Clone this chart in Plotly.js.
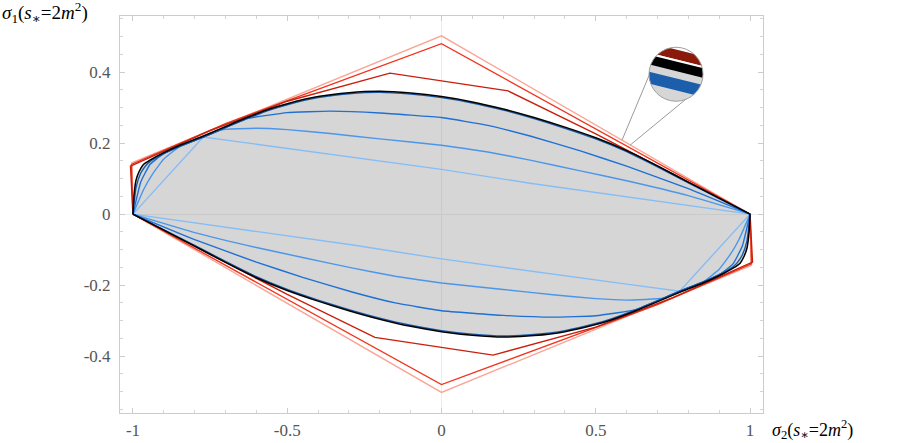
<!DOCTYPE html>
<html>
<head>
<meta charset="utf-8">
<script src="https://cdn.plot.ly/plotly-3.0.1.min.js"></script>
<style>html,body{margin:0;padding:0;background:#fff}#chart{width:900px;height:443px}</style>
</head>
<body>
<div id="chart"></div>
<script>
// allowed region boundary (upper half from -1 to 1, lower half from 1 back to -1)
const boundUpX = [-1, -0.997, -0.99, -0.98, -0.968, -0.945, -0.903, -0.848, -0.772, -0.718, -0.63, -0.55, -0.5, -0.4, -0.3, -0.2, -0.1, 0, 0.1, 0.2, 0.3, 0.4, 0.5, 0.6, 0.7, 0.8, 0.9, 1];
const boundUpY = [0, 0.05, 0.096, 0.12, 0.138, 0.152, 0.172, 0.194, 0.22, 0.24, 0.272, 0.298, 0.311, 0.331, 0.342, 0.346, 0.341, 0.331, 0.316, 0.296, 0.272, 0.245, 0.215, 0.179, 0.136, 0.09, 0.045, 0];
const boundLoX = [1, 0.997, 0.99, 0.98, 0.968, 0.945, 0.903, 0.848, 0.772, 0.718, 0.63, 0.55, 0.5, 0.4, 0.3, 0.2, 0.1, 0, -0.1, -0.2, -0.3, -0.4, -0.5, -0.6, -0.7, -0.8, -0.9, -1];
const boundLoY = [0, -0.05, -0.096, -0.12, -0.138, -0.152, -0.172, -0.194, -0.22, -0.24, -0.272, -0.298, -0.311, -0.331, -0.342, -0.346, -0.341, -0.331, -0.316, -0.296, -0.272, -0.245, -0.215, -0.179, -0.136, -0.09, -0.045, 0];

// red outer bounds
const redLightX = [-1, -1.003, 0, 1, 1.003, 0, -1];
const redLightY = [0, 0.145, 0.502, 0, -0.145, -0.502, 0];
const redMidX = [-1, -1.005, -0.7, 0, 1, 1.005, 0.7, 0, -1];
const redMidY = [0, 0.14, 0.255, 0.48, 0, -0.14, -0.255, -0.48, 0];
const redDarkX = [-1, -1.008, -0.75, -0.5, -0.167, 0.216, 0.5, 1, 1.008, 0.75, 0.5, 0.167, -0.216, -0.5, -1];
const redDarkY = [0, 0.135, 0.235, 0.318, 0.397, 0.347, 0.226, 0, -0.135, -0.235, -0.318, -0.397, -0.347, -0.226, 0];

// blue curves, upper family
const blueAUpX = [-1, -0.99, -0.975, -0.96, -0.945, -0.903, -0.848, -0.772, -0.718, -0.63, -0.55, -0.5, -0.4, -0.3, -0.2, -0.1, 0, 0.1, 0.2, 0.3, 0.4, 0.5, 0.6, 0.7, 0.8, 0.9, 1];
const blueAUpY = [0, 0.075, 0.115, 0.135, 0.148, 0.169, 0.191, 0.217, 0.237, 0.269, 0.295, 0.308, 0.328, 0.339, 0.343, 0.338, 0.328, 0.313, 0.293, 0.269, 0.242, 0.212, 0.176, 0.133, 0.088, 0.044, 0];
const blueBUpX = [-1, -0.975, -0.945, -0.903, -0.848, -0.772, -0.718, -0.63, -0.5, -0.361, -0.2, 0, 0.15, 0.287, 0.45, 0.6, 0.8, 1];
const blueBUpY = [0, 0.09, 0.14, 0.169, 0.191, 0.217, 0.237, 0.269, 0.286, 0.29, 0.285, 0.272, 0.25, 0.22, 0.178, 0.135, 0.072, 0];
const blueCUpX = [-1, -0.965, -0.935, -0.9, -0.848, -0.772, -0.718, -0.6, -0.5, -0.361, -0.2, 0, 0.15, 0.287, 0.45, 0.6, 0.8, 1];
const blueCUpY = [0, 0.07, 0.115, 0.155, 0.191, 0.217, 0.237, 0.242, 0.238, 0.227, 0.212, 0.194, 0.175, 0.152, 0.122, 0.094, 0.052, 0];
const blueDUpX = [-1, -0.772, -0.6, -0.361, 0, 0.287, 0.6, 1];
const blueDUpY = [0, 0.217, 0.197, 0.168, 0.126, 0.087, 0.048, 0];

// blue curves, lower family
const blueALoX = [1, 0.99, 0.975, 0.96, 0.945, 0.903, 0.848, 0.772, 0.718, 0.63, 0.55, 0.5, 0.4, 0.3, 0.2, 0.1, 0, -0.1, -0.2, -0.3, -0.4, -0.5, -0.6, -0.7, -0.8, -0.9, -1];
const blueALoY = [0, -0.075, -0.115, -0.135, -0.148, -0.169, -0.191, -0.217, -0.237, -0.269, -0.295, -0.308, -0.328, -0.339, -0.343, -0.338, -0.328, -0.313, -0.293, -0.269, -0.242, -0.212, -0.176, -0.133, -0.088, -0.044, 0];
const blueBLoX = [1, 0.975, 0.945, 0.903, 0.848, 0.772, 0.718, 0.63, 0.5, 0.361, 0.2, 0, -0.15, -0.287, -0.45, -0.6, -0.8, -1];
const blueBLoY = [0, -0.09, -0.14, -0.169, -0.191, -0.217, -0.237, -0.269, -0.286, -0.29, -0.285, -0.272, -0.25, -0.22, -0.178, -0.135, -0.072, 0];
const blueCLoX = [1, 0.965, 0.935, 0.9, 0.848, 0.772, 0.718, 0.6, 0.5, 0.361, 0.2, 0, -0.15, -0.287, -0.45, -0.6, -0.8, -1];
const blueCLoY = [0, -0.07, -0.115, -0.155, -0.191, -0.217, -0.237, -0.242, -0.238, -0.227, -0.212, -0.194, -0.175, -0.152, -0.122, -0.094, -0.052, 0];
const blueDLoX = [1, 0.772, 0.6, 0.361, 0, -0.287, -0.6, -1];
const blueDLoY = [0, -0.217, -0.197, -0.168, -0.126, -0.087, -0.048, 0];

const xTicks = [-1, -0.5, 0, 0.5, 1];
const xTickText = ['-1', '-0.5', '0', '0.5', '1'];
const yTicks = [-0.4, -0.2, 0, 0.2, 0.4];
const yTickText = ['-0.4', '-0.2', '0', '0.2', '0.4'];

const serif = 'Liberation Serif, DejaVu Serif, serif';

const lineTrace = (x, y, color, width, smoothing) => ({
    x: x, y: y, type: 'scatter', mode: 'lines',
    line: smoothing ? {color: color, width: width, shape: 'spline', smoothing: smoothing}
                    : {color: color, width: width},
    hoverinfo: 'skip', showlegend: false
});

const regionX = boundUpX.concat(boundLoX);
const regionY = boundUpY.concat(boundLoY);

const data = [
    {
        x: regionX, y: regionY, type: 'scatter', mode: 'lines',
        fill: 'toself', fillcolor: 'rgba(120,120,120,0.3)',
        line: {width: 0}, hoverinfo: 'skip', showlegend: false
    },
    lineTrace(redLightX, redLightY, '#fba596', 1.4),
    lineTrace(redMidX, redMidY, '#f0361e', 1.4),
    lineTrace(redDarkX, redDarkY, '#c81f0c', 1.4),
    lineTrace(blueDUpX, blueDUpY, '#86bdf6', 1.4),
    lineTrace(blueDLoX, blueDLoY, '#86bdf6', 1.4),
    lineTrace(blueCUpX, blueCUpY, '#4b96ea', 1.4, 0.35),
    lineTrace(blueCLoX, blueCLoY, '#4b96ea', 1.4, 0.35),
    lineTrace(blueBUpX, blueBUpY, '#1f70d4', 1.4, 0.35),
    lineTrace(blueBLoX, blueBLoY, '#1f70d4', 1.4, 0.35),
    lineTrace(blueAUpX, blueAUpY, '#1a5aa8', 1.4, 0.5),
    lineTrace(blueALoX, blueALoY, '#1a5aa8', 1.4, 0.5),
    lineTrace(boundUpX, boundUpY, '#000000', 1.5, 0.5),
    lineTrace(boundLoX, boundLoY, '#000000', 1.5, 0.5)
];

// magnifier inset (pixel sized, anchored in data space)
const lensX = 0.76, lensY = 0.394, lensR = 27, lensTilt = 14 * Math.PI / 180;
const lensBands = [
    {from: -27, to: -24, color: '#ffffff'},
    {from: -24, to: -14.5, color: '#8c1a0b'},
    {from: -14.5, to: -12.3, color: '#ffffff'},
    {from: -12.3, to: -3, color: '#000000'},
    {from: 4, to: 15.5, color: '#1b5fac'}
];

function bandPath(a, b) {
    const c = Math.cos(lensTilt), s = Math.sin(lensTilt);
    a = Math.max(-lensR, a); b = Math.min(lensR, b);
    const pa = Math.asin(a / lensR), pb = Math.asin(b / lensR);
    const angles = [];
    for (let i = 0; i <= 24; i++) angles.push(pa + (pb - pa) * i / 24);
    for (let i = 0; i <= 24; i++) angles.push(Math.PI - pb + (pb - pa) * i / 24);
    return angles.map((f, i) => {
        const u = lensR * Math.cos(f), v = lensR * Math.sin(f);
        const px = u * c - v * s;
        const py = u * s + v * c;
        return (i ? 'L' : 'M') + px.toFixed(2) + ',' + (-py).toFixed(2);
    }).join(' ') + ' Z';
}

const pixelShape = (extra) => Object.assign({
    xref: 'x', yref: 'y', xsizemode: 'pixel', ysizemode: 'pixel',
    xanchor: lensX, yanchor: lensY, layer: 'above'
}, extra);

const shapes = [
    pixelShape({type: 'line', x0: -26, y0: 1, x1: -54, y1: -66, line: {color: '#9a9a9a', width: 1}}),
    pixelShape({type: 'line', x0: 11, y0: -24, x1: -46, y1: -71, line: {color: '#9a9a9a', width: 1}}),
    pixelShape({type: 'circle', x0: -lensR, y0: -lensR, x1: lensR, y1: lensR, fillcolor: '#d6d6d6', line: {width: 0}})
];
lensBands.forEach(b => shapes.push(pixelShape({type: 'path', path: bandPath(b.from, b.to), fillcolor: b.color, line: {width: 0}})));
shapes.push(pixelShape({type: 'circle', x0: -lensR, y0: -lensR, x1: lensR, y1: lensR, line: {color: '#a0a0a0', width: 1}}));

const axisCommon = {
    showgrid: false,
    zeroline: true, zerolinecolor: '#ececec', zerolinewidth: 1,
    showline: true, linecolor: '#cccccc', linewidth: 1, mirror: 'allticks',
    ticks: 'inside', ticklen: 5, tickcolor: '#cccccc',
    tickfont: {family: serif, size: 17, color: '#555555'},
    fixedrange: true
};

const layout = {
    width: 900, height: 443,
    margin: {l: 120, r: 137, t: 16, b: 30},
    paper_bgcolor: '#ffffff', plot_bgcolor: '#ffffff',
    showlegend: false,
    xaxis: Object.assign({}, axisCommon, {
        range: [-1.042, 1.042],
        tickmode: 'array', tickvals: xTicks, ticktext: xTickText,
        ticklabelstandoff: 2,
        minor: {dtick: 0.1, tick0: 0, ticks: 'inside', ticklen: 3, tickcolor: '#d4d4d4'}
    }),
    yaxis: Object.assign({}, axisCommon, {
        range: [-0.56, 0.558],
        tickmode: 'array', tickvals: yTicks, ticktext: yTickText,
        ticklabelstandoff: 5,
        minor: {dtick: 0.05, tick0: 0, ticks: 'inside', ticklen: 3, tickcolor: '#d4d4d4'}
    }),
    shapes: shapes,
    annotations: [
        {
            text: '<i>σ</i><sub>1</sub>(<i>s</i><sub>∗</sub>=2<i>m</i><sup>2</sup>)',
            xref: 'paper', yref: 'paper', x: -0.1866, y: 1.008,
            xanchor: 'left', yanchor: 'middle', showarrow: false,
            font: {family: serif, size: 19, color: '#000000'}
        },
        {
            text: '<i>σ</i><sub>2</sub>(<i>s</i><sub>∗</sub>=2<i>m</i><sup>2</sup>)',
            xref: 'paper', yref: 'paper', x: 1.011, y: -0.042,
            xanchor: 'left', yanchor: 'middle', showarrow: false,
            font: {family: serif, size: 18, color: '#000000'}
        }
    ]
};

Plotly.newPlot('chart', data, layout, {staticPlot: true});
</script>
</body>
</html>
